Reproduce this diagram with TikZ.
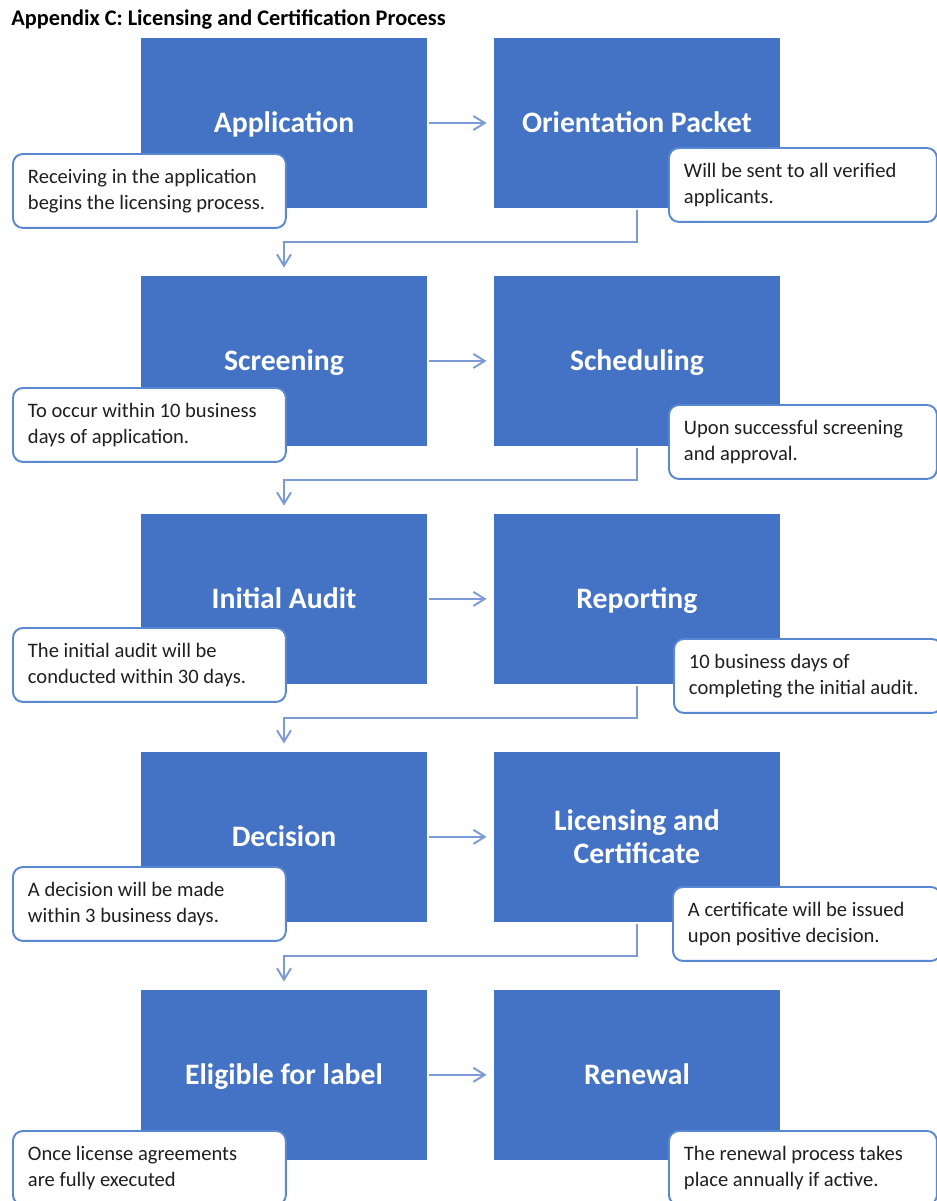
\documentclass[tikz,border=0pt]{standalone}
\usepackage{fontspec}
\setmainfont{Carlito}
\usepackage{tikz}
\usetikzlibrary{arrows.meta,positioning}

\definecolor{stageblue}{HTML}{4472C4}
\definecolor{noteline}{HTML}{5A87D2}
\definecolor{linkblue}{HTML}{7C9BD6}

\begin{document}
\begin{tikzpicture}[x=0.02cm, y=-0.02cm, node distance=4.76cm,
  stage node/.style={rectangle, fill=stageblue, text=white, minimum width=5.72cm, minimum height=3.4cm, inner sep=0pt, align=center, text height=16pt, text depth=5.2pt, font=\fontsize{16.9}{19}\selectfont\bfseries},
  note node/.style={rectangle, rounded corners=0.2cm, draw=noteline, line width=1.1pt, fill=white, text=black!88, minimum height=1.48cm, inner xsep=0.3cm, inner ysep=0pt, align=flush left, anchor=north west, font=\fontsize{11.7}{14.7}\selectfont},
  left note/.style={note node, text width=4.86cm},
  right note/.style={note node, text width=4.76cm},
  link/.style={draw=linkblue, line width=1.1pt, -{Straight Barb[length=6.5pt, width=8pt]}}]
  \useasboundingbox (0,0) rectangle (937,1201);

  \node[anchor=base west, inner sep=0pt, font=\fontsize{12.7}{14}\selectfont\bfseries] (title) at (11,25) {Appendix C: Licensing and Certification Process};

  % Etapes du processus
  \node[stage node] (app) at (284,123) {Application};
  \node[stage node] (orient) [right of=app, xshift=2.3cm] {Orientation Packet};
  \node[stage node] (screen) [below of=app] {Screening};
  \node[stage node] (sched) [below of=orient] {Scheduling};
  \node[stage node] (audit) [below of=screen] {Initial Audit};
  \node[stage node] (report) [below of=sched] {Reporting};
  \node[stage node] (decision) [below of=audit] {Decision};
  \node[stage node, text height=, text depth=] (licence) [below of=report] {Licensing and\\Certificate};
  \node[stage node] (eligible) [below of=decision] {Eligible for label};
  \node[stage node] (renew) [below of=licence] {Renewal};

  % Fleches horizontales
  \draw[link, shorten <=0.04cm, shorten >=0.14cm] (app) -- (orient);
  \draw[link, shorten <=0.04cm, shorten >=0.14cm] (screen) -- (sched);
  \draw[link, shorten <=0.04cm, shorten >=0.14cm] (audit) -- (report);
  \draw[link, shorten <=0.04cm, shorten >=0.14cm] (decision) -- (licence);
  \draw[link, shorten <=0.04cm, shorten >=0.14cm] (eligible) -- (renew);

  % Fleches coudees vers la ligne suivante
  \draw[link, shorten <=0.04cm, shorten >=0.16cm] (orient.south) -- ++(0,34) -| (screen.north);
  \draw[link, shorten <=0.04cm, shorten >=0.16cm] (sched.south) -- ++(0,34) -| (audit.north);
  \draw[link, shorten <=0.04cm, shorten >=0.16cm] (report.south) -- ++(0,34) -| (decision.north);
  \draw[link, shorten <=0.04cm, shorten >=0.16cm] (licence.south) -- ++(0,34) -| (eligible.north);

  % Bulles de commentaire
  \node[left note] (appnote) at (12,153) {Receiving in the application\\begins the licensing process.};
  \node[right note] (orientnote) at (668,147) {Will be sent to all verified\\applicants.};
  \node[left note] (screennote) at (12,387) {To occur within 10 business\\days of application.};
  \node[right note] (schednote) at (668,404) {Upon successful screening\\and approval.};
  \node[left note] (auditnote) at (12,627) {The initial audit will be\\conducted within 30 days.};
  \node[right note] (reportnote) at (673,638) {10 business days of\\completing the initial audit.};
  \node[left note] (decisionnote) at (12,866) {A decision will be made\\within 3 business days.};
  \node[right note] (licencenote) at (672,886) {A certificate will be issued\\upon positive decision.};
  \node[left note] (eligiblenote) at (12,1130) {Once license agreements\\are fully executed};
  \node[right note] (renewnote) at (668,1130) {The renewal process takes\\place annually if active.};
\end{tikzpicture}
\end{document}
